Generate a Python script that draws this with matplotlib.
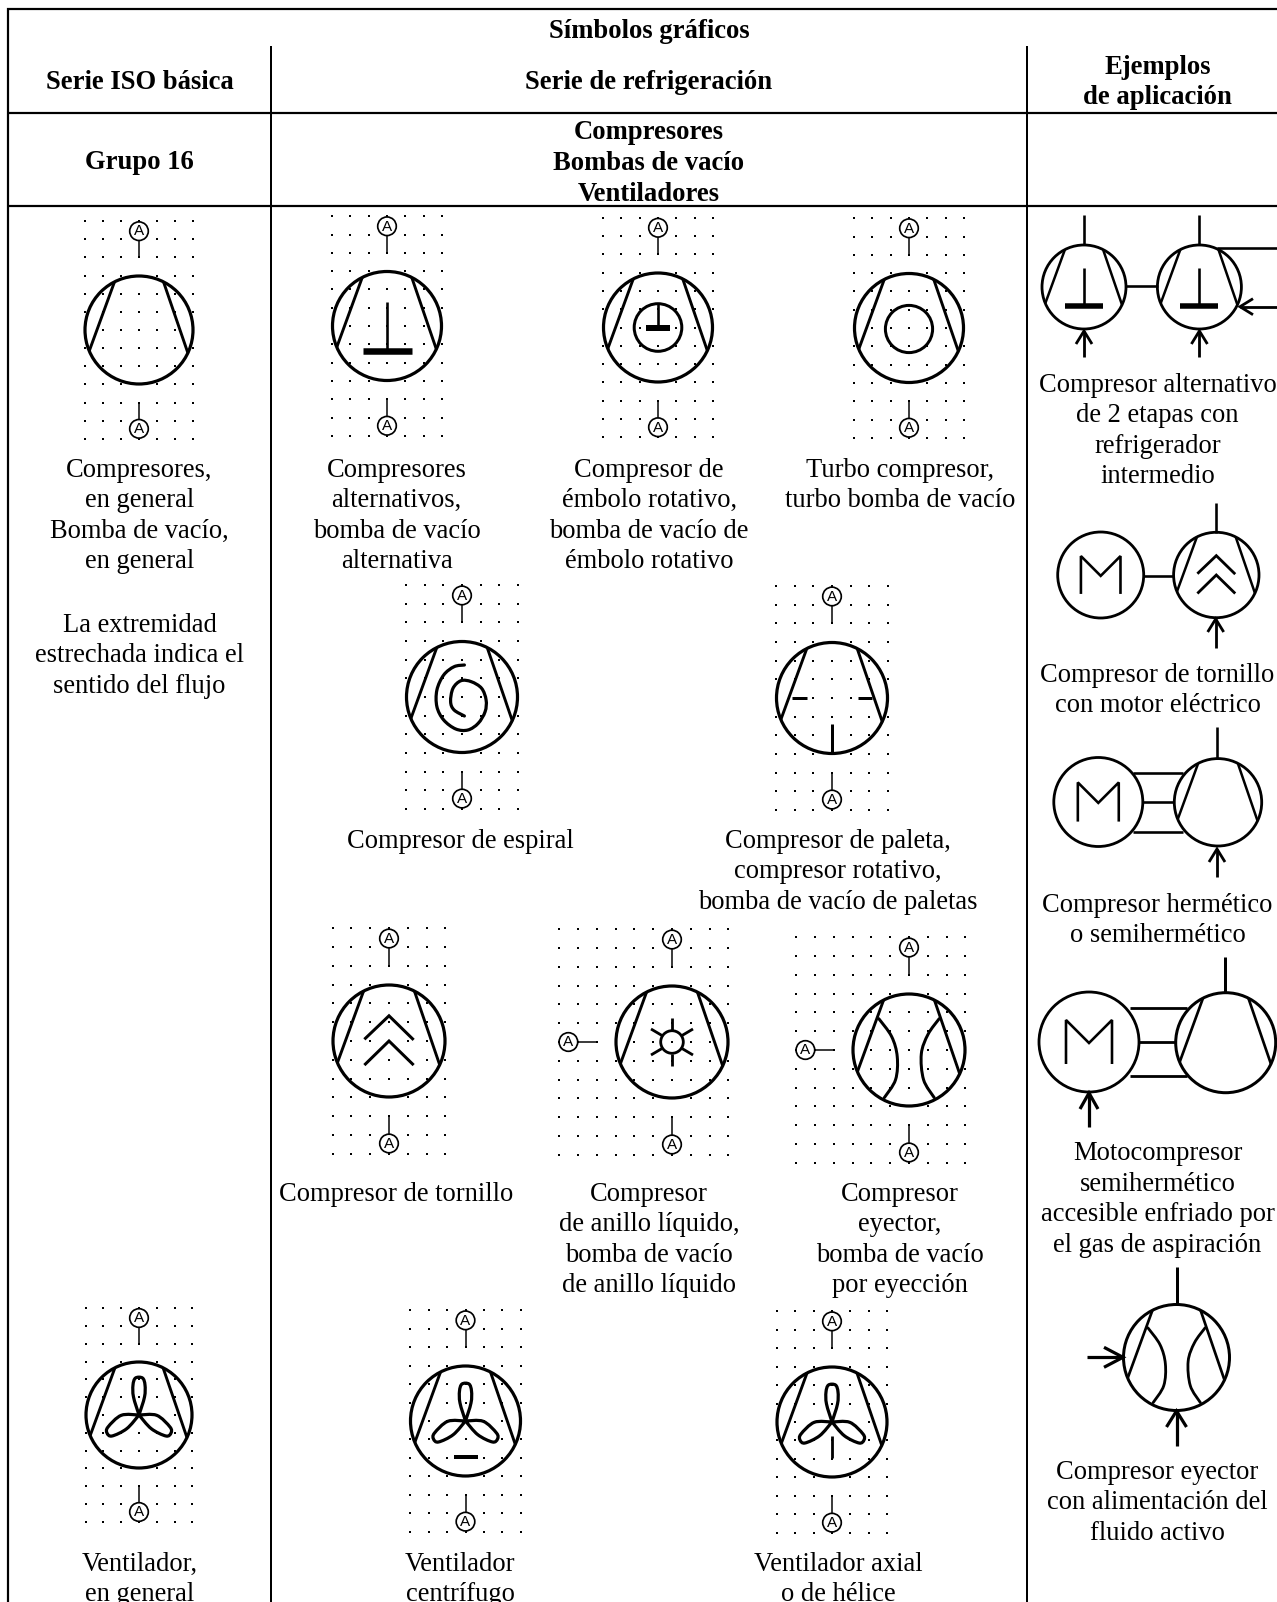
"""Tabla de simbolos graficos: compresores, bombas de vacio, ventiladores."""

import numpy as np
import matplotlib
matplotlib.use("Agg")
import matplotlib.pyplot as plt
from matplotlib.patches import Circle, Ellipse, PathPatch
from matplotlib.path import Path

W, H = 1277, 1602
PX = 0.72  # px -> pt at dpi 100

# ---------------------------------------------------------------------------
# Texts
# ---------------------------------------------------------------------------

BOLD_TEXT = [
    (649, 29.6, ["Símbolos gráficos"]),
    (139.5, 80.7, ["Serie ISO básica"]),
    (649, 80.7, ["Serie de refrigeración"]),
    (1157.5, 65, ["Ejemplos", "de aplicación"]),
    (139.5, 160.5, ["Grupo 16"]),
    (649, 130.8, ["Compresores", "Bombas de vacío", "Ventiladores"]),
]

BODY_TEXT = [
    (139.5, 468, ["Compresores,", "en general", "Bomba de vacío,", "en general"]),
    (139.5, 623, ["La extremidad", "estrechada indica el", "sentido del flujo"]),
    (396.5, 468, ["Compresores", "alternativos,", "bomba de vacío", "alternativa"]),
    (649, 468, ["Compresor de", "émbolo rotativo,", "bomba de vacío de", "émbolo rotativo"]),
    (900, 468, ["Turbo compresor,", "turbo bomba de vacío"]),
    (460, 839, ["Compresor de espiral"]),
    (838, 839, ["Compresor de paleta,", "compresor rotativo,", "bomba de vacío de paletas"]),
    (396.5, 1192, ["Compresor de tornillo"]),
    (649, 1192, ["Compresor", "de anillo líquido,", "bomba de vacío", "de anillo líquido"]),
    (900, 1192, ["Compresor", "eyector,", "bomba de vacío", "por eyección"]),
    (139.5, 1562, ["Ventilador,", "en general"]),
    (460, 1562, ["Ventilador", "centrífugo"]),
    (838, 1562, ["Ventilador axial", "o de hélice"]),
    (1157.5, 383, ["Compresor alternativo", "de 2 etapas con", "refrigerador", "intermedio"]),
    (1157.5, 673, ["Compresor de tornillo", "con motor eléctrico"]),
    (1157.5, 903, ["Compresor hermético", "o semihermético"]),
    (1157.5, 1151.4, ["Motocompresor", "semihermético", "accesible enfriado por", "el gas de aspiración"]),
    (1157.5, 1470, ["Compresor eyector", "con alimentación del", "fluido activo"]),
]

# ---------------------------------------------------------------------------
# Symbol shapes (offsets from the symbol centre, px for r = 55-57)
# ---------------------------------------------------------------------------

WEDGE_LEFT = [(-0.454, -0.891), (-0.920, 0.385)]
WEDGE_RIGHT = [(0.454, -0.891), (0.905, 0.425)]

SPIRAL = [(2.4, -32), (-7.9, -30.3), (-18.3, -22), (-25.1, -7), (-25.1, 9.7), (-18.3, 23),
          (-6.2, 32), (5.9, 33), (16.2, 26.3), (23.1, 14.7), (24.1, 3), (19.6, -8.7),
          (9.3, -15.3), (-1, -16.3), (-9, -8.7), (-11.4, 4.7), (-7.9, 13), (2.4, 19)]

CHEVRON_HI = [(-0.44, -0.03), (0, -0.45), (0.44, -0.02)]
CHEVRON_LO = [(-0.44, 0.43), (0, 0), (0.44, 0.43)]

EJECT_LEFT = [(-0.54, -0.56), (-0.31, -0.24), (-0.21, 0.12), (-0.24, 0.53), (-0.44, 0.85)]
EJECT_RIGHT = [(0.54, -0.56), (0.34, -0.28), (0.22, 0.07), (0.26, 0.53), (0.45, 0.85)]

PETAL_TOP = [(0, 0), (-5.5, -18), (-6, -30), (-3.5, -37), (3.5, -37), (6, -30), (5.5, -18), (0, 0)]
PETAL_LEFT = [(0, 0), (-17.7, 0.3), (-31, 12), (-32, 18), (-27, 21), (-12.3, 13.7), (0, 0)]

MOTOR_M = [(-0.46, 0.44), (-0.46, -0.44), (0, 0.02), (0.46, -0.44), (0.46, 0.44)]

# symbol centres and radius (x, y, r)
SYM_COMP_GEN = (139, 330, 54)
SYM_ALT = (387, 326, 54.5)
SYM_ROT = (658, 327.5, 54.5)
SYM_TURBO = (909, 328, 54.5)
SYM_SPIRAL = (462, 697, 55.5)
SYM_VANE = (832, 698, 55.5)
SYM_SCREW = (389, 1041, 56)
SYM_RING = (672, 1042, 56)
SYM_EJECT = (909, 1050, 56)
SYM_FAN = (139, 1415, 53)
SYM_CENT = (465.5, 1421, 55)
SYM_AXIAL = (832, 1422, 55)

fig = plt.figure(figsize=(W / 100, H / 100), dpi=100)
ax = fig.add_axes([0, 0, 1, 1])
ax.set_xlim(0, W)
ax.set_ylim(H, 0)
ax.axis("off")
plt.rcParams["font.family"] = ["Liberation Serif", "DejaVu Serif"]


def line(pts, lw=2.6, **kw):
    pts = np.asarray(pts, dtype=float)
    ax.plot(pts[:, 0], pts[:, 1], color="black", lw=lw * PX, solid_capstyle="butt",
            solid_joinstyle="miter", **kw)


def shifted(pts, cx, cy, scale=1.0, mirror=False):
    pts = np.asarray(pts, dtype=float) * scale
    if mirror:
        pts = pts * [-1, 1]
    return pts + [cx, cy]


def smooth(pts, lw=3.0):
    """Catmull-Rom curve through the given points."""
    pts = np.asarray(pts, dtype=float)
    ext = np.vstack([pts[0], pts, pts[-1]])
    verts = [pts[0]]
    codes = [Path.MOVETO]
    for i in range(1, len(ext) - 2):
        p0, p1, p2, p3 = ext[i - 1], ext[i], ext[i + 1], ext[i + 2]
        verts += [p1 + (p2 - p0) / 6, p2 - (p3 - p1) / 6, p2]
        codes += [Path.CURVE4, Path.CURVE4, Path.CURVE4]
    ax.add_patch(PathPatch(Path(verts, codes), fill=False, edgecolor="black",
                           lw=lw * PX, capstyle="round", joinstyle="round"))


def ring(cx, cy, r, lw=3.2):
    ax.add_patch(Circle((cx, cy), r, fill=False, edgecolor="black", lw=lw * PX, zorder=3))


def body(cx, cy, r, lw=3.2):
    ring(cx, cy, r, lw)
    line(shifted(WEDGE_LEFT, cx, cy, r), lw=lw - 0.3)
    line(shifted(WEDGE_RIGHT, cx, cy, r), lw=lw - 0.3)


def bubble(x, y, r):
    ax.add_patch(Ellipse((x, y), 2 * r, 2 * r, facecolor="white", edgecolor="black",
                         lw=1.7 * PX, zorder=4))
    ax.text(x, y + 0.3, "A", family="Liberation Sans", fontsize=11, ha="center",
            va="center", zorder=5)


def grid_symbol(cx, cy, r, side=False):
    """Dot grid, connection bubbles and body of one ISO symbol."""
    step = (r + 0.4) / 3
    cols = np.arange(-6, 4) if side else np.arange(-3, 4)
    rows = np.arange(-6, 7)
    gx, gy = np.meshgrid(cx + cols * step, cy + rows * step)
    ax.scatter(gx.ravel(), gy.ravel(), s=1.8, marker="s", color="black", linewidths=0, zorder=1)
    top = cy - 1.83 * r
    bot = cy + 1.83 * r
    line([(cx, top), (cx, cy - 1.34 * r)], lw=1.5)
    line([(cx, cy + 1.34 * r), (cx, bot)], lw=1.5)
    bubble(cx, top, 9.3)
    bubble(cx, bot, 9.3)
    if side:
        bx = cx - 1.85 * r
        line([(bx, cy), (cx - 1.32 * r, cy)], lw=1.5)
        bubble(bx, cy, 9.3)
    body(cx, cy, r)


def tee(cx, cy, stem_top, bar_y, half, thick, lw=2.6):
    line([(cx, cy + stem_top), (cx, cy + bar_y)], lw=lw)
    line([(cx - half, cy + bar_y), (cx + half, cy + bar_y)], lw=thick)


def arrow(x0, y0, x1, y1, hl=13, hw=8, lw=2.8):
    """Open arrow with its tip at (x1, y1)."""
    d = np.array([x1 - x0, y1 - y0], dtype=float)
    d /= np.hypot(*d)
    n = np.array([-d[1], d[0]])
    tip = np.array([x1, y1])
    line([(x0, y0), tip], lw=lw)
    line([tip - d * hl + n * hw, tip, tip - d * hl - n * hw], lw=lw)


def fan(cx, cy):
    smooth(shifted(PETAL_TOP, cx, cy), lw=3.2)
    smooth(shifted(PETAL_LEFT, cx, cy), lw=3.2)
    smooth(shifted(PETAL_LEFT, cx, cy, mirror=True), lw=3.2)


def chevrons(cx, cy, r, lw=3.0):
    line(shifted(CHEVRON_HI, cx, cy, r), lw=lw)
    line(shifted(CHEVRON_LO, cx, cy, r), lw=lw)


def eject(cx, cy, r, lw=3.0):
    smooth(shifted(EJECT_LEFT, cx, cy, r), lw=lw)
    smooth(shifted(EJECT_RIGHT, cx, cy, r), lw=lw)


def motor(cx, cy, r, lw=2.6):
    ring(cx, cy, r, 2.8)
    line(shifted(MOTOR_M, cx, cy, r), lw=lw)


# ---------------------------------------------------------------------------
# Table frame
# ---------------------------------------------------------------------------

line([(8, H), (8, 9), (W, 9)], lw=2.2)
line([(8, 112.7), (W, 112.7)], lw=2.2)
line([(8, 206), (W, 206)], lw=2.2)
line([(271, 46), (271, H)], lw=2.0)
line([(1027, 46), (1027, H)], lw=2.0)

# ---------------------------------------------------------------------------
# ISO symbols
# ---------------------------------------------------------------------------

grid_symbol(*SYM_COMP_GEN)

cx, cy, r = SYM_ALT
grid_symbol(cx, cy, r)
tee(cx, cy, -24, 24.7, 24.5, 6.5)

cx, cy, r = SYM_ROT
grid_symbol(cx, cy, r)
ring(cx, cy, 23.8, 3.0)
tee(cx, cy, -24, 0, 12, 6)

cx, cy, r = SYM_TURBO
grid_symbol(cx, cy, r)
ring(cx, cy + 1, 23.6, 3.0)

cx, cy, r = SYM_SPIRAL
grid_symbol(cx, cy, r)
smooth(shifted(SPIRAL, cx, cy), lw=3.2)

cx, cy, r = SYM_VANE
grid_symbol(cx, cy, r)
line([(cx - 40, cy), (cx - 25, cy)], lw=3.0)
line([(cx + 26, cy), (cx + 40, cy)], lw=3.0)
line([(cx, cy + 26), (cx, cy + r)], lw=3.0)

cx, cy, r = SYM_SCREW
grid_symbol(cx, cy, r)
chevrons(cx, cy, r)

cx, cy, r = SYM_RING
grid_symbol(cx, cy, r, side=True)
ring(cx, cy, 11.3, 2.8)
line([(cx, cy - 24), (cx, cy - 12)], lw=2.8)
line([(cx, cy + 12), (cx, cy + 24)], lw=2.8)
for sx in (-1, 1):
    for sy in (-1, 1):
        line([(cx + sx * 21, cy + sy * 13), (cx + sx * 10, cy + sy * 6.5)], lw=2.8)

cx, cy, r = SYM_EJECT
grid_symbol(cx, cy, r, side=True)
eject(cx, cy, r)

cx, cy, r = SYM_FAN
grid_symbol(cx, cy, r)
fan(cx, cy)

cx, cy, r = SYM_CENT
grid_symbol(cx, cy, r)
fan(cx, cy)
line([(cx - 12, cy + 36), (cx + 12, cy + 36)], lw=4.0)

cx, cy, r = SYM_AXIAL
grid_symbol(cx, cy, r)
fan(cx, cy)
line([(cx, cy + 14), (cx, cy + 36)], lw=2.8)

# ---------------------------------------------------------------------------
# Application examples
# ---------------------------------------------------------------------------

for cx in (1084, 1199.4):
    body(cx, 287, 42, 2.8)
    line([(cx, 215), (cx, 245)], lw=2.6)
    tee(cx, 287, -19.5, 19, 19, 5.5)
    arrow(cx, 357, cx, 331)
line([(1126, 286), (1157.5, 286)], lw=2.6)
line([(1217, 248), (W, 248)], lw=2.6)
arrow(W, 306.7, 1240, 306.7)

motor(1100.7, 575, 43)
body(1216.3, 575, 42.7, 2.8)
chevrons(1216.3, 575, 43, lw=2.8)
line([(1144, 576), (1173, 576)], lw=2.6)
line([(1215.7, 503), (1215.7, 533)], lw=2.6)
arrow(1215.7, 648, 1215.7, 619)

motor(1098.3, 802, 44.5)
body(1218, 802.3, 43.7, 2.8)
line([(1133, 772.7), (1183, 772.7)], lw=2.6)
line([(1143, 802.3), (1174, 802.3)], lw=2.6)
line([(1133, 831.7), (1183, 831.7)], lw=2.6)
line([(1217, 727), (1217, 758)], lw=2.6)
arrow(1217, 877, 1217, 849)

motor(1089, 1042, 50)
body(1225.7, 1042.7, 50, 3.0)
line([(1130, 1008), (1187, 1008)], lw=2.8)
line([(1139, 1042), (1176, 1042)], lw=2.8)
line([(1130, 1075.7), (1187, 1075.7)], lw=2.8)
line([(1225, 957), (1225, 993)], lw=3.0)
arrow(1089, 1127, 1089, 1093, hl=16, hw=9, lw=3.2)

body(1176.5, 1357.5, 53, 3.0)
eject(1176.5, 1357.5, 53, lw=2.8)
line([(1176.7, 1267), (1176.7, 1304)], lw=3.0)
arrow(1176.5, 1446, 1176.5, 1411, hl=16, hw=10, lw=3.2)
arrow(1087, 1357.3, 1123, 1357.3, hl=19, hw=10, lw=3.2)

# ---------------------------------------------------------------------------
# Labels
# ---------------------------------------------------------------------------

LINE_PITCH = 30.6
BASE_OFFSET = 8.6

for blocks, weight, size in ((BOLD_TEXT, "bold", 19.2), (BODY_TEXT, "normal", 19.1)):
    for x, y, rows in blocks:
        for i, row in enumerate(rows):
            ax.text(x, y + BASE_OFFSET + i * LINE_PITCH, row, fontsize=size, fontweight=weight,
                    ha="center", va="baseline", color="black")

fig.savefig("out.png", dpi=100, facecolor="white")
